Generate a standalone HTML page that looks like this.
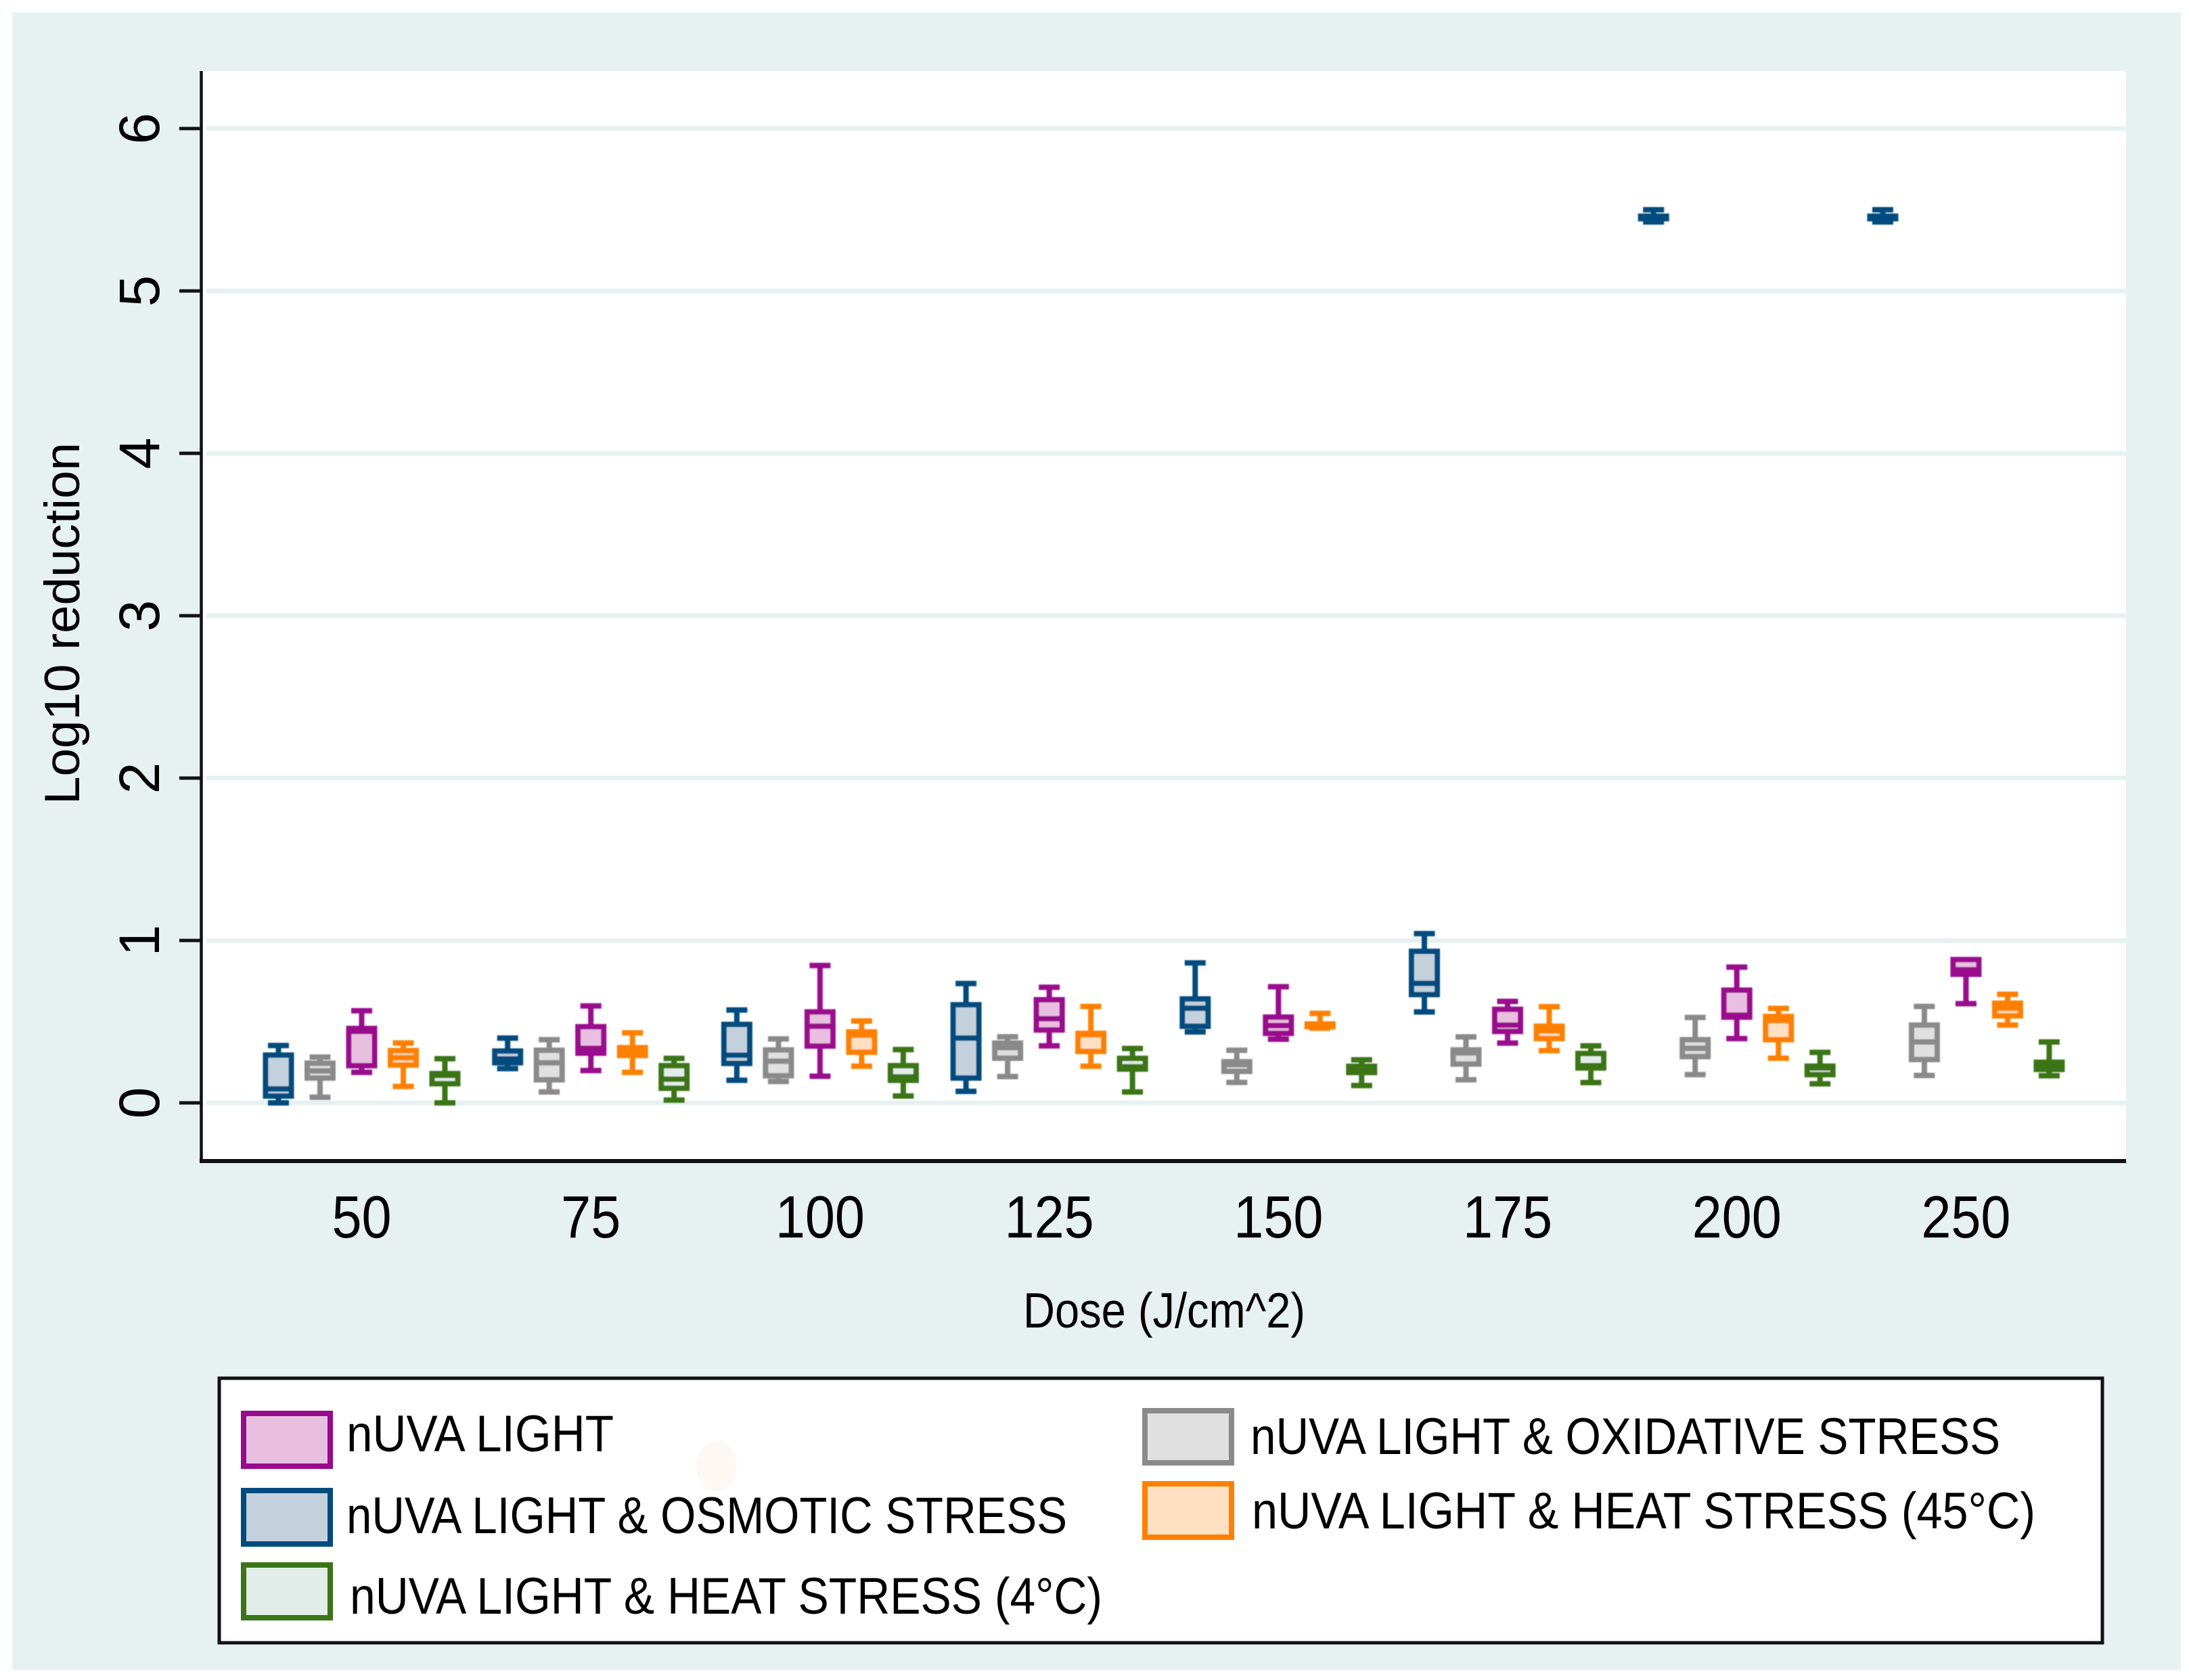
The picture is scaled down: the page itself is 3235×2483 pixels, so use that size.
<!DOCTYPE html>
<html lang="en">
<head>
<meta charset="utf-8">
<title>Log10 reduction by dose</title>
<style>
html,body{margin:0;padding:0;background:#fff;width:3235px;height:2483px;overflow:hidden}
svg{display:block}
text{font-family:"Liberation Sans",sans-serif;fill:#000}
</style>
</head>
<body>
<svg id="chart" xmlns="http://www.w3.org/2000/svg" width="3235" height="2483" viewBox="0 0 3235 2483">
  <defs>
    <filter id="soft" x="-2%" y="-2%" width="104%" height="104%"><feGaussianBlur stdDeviation="0.9"/></filter>
  </defs>
  <rect x="0" y="0" width="3235" height="2483" fill="#ffffff"/>
  <rect x="18" y="18" width="3205" height="2450" fill="#e7f1f2"/>
  <rect x="298" y="105" width="2844" height="1611" fill="#ffffff"/>
  <g id="grid"></g>
  <g id="marks" filter="url(#soft)"></g>
  <line x1="297.5" y1="105" x2="297.5" y2="1719" stroke="#111" stroke-width="4.5"/>
  <line x1="295" y1="1716" x2="3142" y2="1716" stroke="#111" stroke-width="6"/>
  <g id="yticks"></g>
  <g id="xticks"></g>
  <text transform="translate(117,1189) rotate(-90)" font-size="73" fill="#111" textLength="535" lengthAdjust="spacingAndGlyphs">Log10 reduction</text>
  <text x="1512" y="1962" font-size="73" textLength="417" lengthAdjust="spacingAndGlyphs">Dose (J/cm^2)</text>

  <g>
    <rect x="324" y="2037" width="2783" height="391" fill="#ffffff" stroke="#111" stroke-width="5"/>
    <ellipse cx="1059" cy="2167" rx="30" ry="37" fill="#fef8f4"/>

    <rect x="360" y="2089" width="128" height="78" fill="#e8bfe0" stroke="#990a8c" stroke-width="8"/>
    <text x="512" y="2145" font-size="76" textLength="395" lengthAdjust="spacingAndGlyphs">nUVA LIGHT</text>

    <rect x="360" y="2203" width="128" height="79" fill="#c3d1dd" stroke="#004b7e" stroke-width="8"/>
    <text x="512" y="2266" font-size="76" textLength="1065" lengthAdjust="spacingAndGlyphs">nUVA LIGHT &amp; OSMOTIC STRESS</text>

    <rect x="360" y="2313" width="128" height="78" fill="#e2ece8" stroke="#3a7518" stroke-width="8"/>
    <text x="517" y="2385" font-size="76" textLength="1112" lengthAdjust="spacingAndGlyphs">nUVA LIGHT &amp; HEAT STRESS (4°C)</text>

    <rect x="1692" y="2085" width="128" height="77" fill="#e0e0e0" stroke="#8a8a8a" stroke-width="8"/>
    <text x="1848" y="2149" font-size="76" textLength="1108" lengthAdjust="spacingAndGlyphs">nUVA LIGHT &amp; OXIDATIVE STRESS</text>

    <rect x="1692" y="2193" width="128" height="79" fill="#ffe0c2" stroke="#ff8000" stroke-width="8"/>
    <text x="1850" y="2259" font-size="76" textLength="1158" lengthAdjust="spacingAndGlyphs">nUVA LIGHT &amp; HEAT STRESS (45°C)</text>
  </g>
</svg>
<script>
// Categories and tick labels
const doses = ["50","75","100","125","150","175","200","250"];
const yTickValues = [0,1,2,3,4,5,6];

// Each row: [low whisker, Q1, median, Q3, high whisker], one per dose
const osmoticStress = [
  [0.00,0.042,0.086,0.294,0.353],
  [0.211,0.247,0.271,0.319,0.399],
  [0.139,0.243,0.294,0.483,0.572],
  [0.071,0.153,0.399,0.604,0.735],
  [0.437,0.472,0.583,0.640,0.862],
  [0.560,0.667,0.736,0.933,1.042],
  [5.425,5.445,5.455,5.46,5.50],
  [5.425,5.445,5.455,5.46,5.50]
];
const oxidativeStress = [
  [0.035,0.153,0.197,0.244,0.282],
  [0.067,0.142,0.247,0.324,0.389],
  [0.132,0.167,0.257,0.326,0.394],
  [0.162,0.275,0.340,0.368,0.407],
  [0.126,0.194,0.236,0.253,0.324],
  [0.142,0.239,0.308,0.326,0.406],
  [0.174,0.285,0.336,0.389,0.526],
  [0.169,0.267,0.375,0.479,0.594]
];
const nuvaLight = [
  [0.188,0.229,0.440,0.458,0.567],
  [0.199,0.306,0.336,0.469,0.597],
  [0.164,0.350,0.472,0.560,0.846],
  [0.351,0.449,0.518,0.635,0.712],
  [0.392,0.428,0.476,0.528,0.715],
  [0.368,0.440,0.479,0.576,0.625],
  [0.396,0.528,0.540,0.694,0.836],
  [0.611,0.792,0.820,0.882,0.882]
];
const heatStress45 = [
  [0.101,0.233,0.278,0.322,0.369],
  [0.188,0.292,0.315,0.340,0.431],
  [0.226,0.312,0.417,0.437,0.504],
  [0.226,0.317,0.420,0.428,0.594],
  [0.460,0.469,0.470,0.486,0.551],
  [0.322,0.396,0.444,0.472,0.592],
  [0.275,0.389,0.507,0.532,0.582],
  [0.479,0.536,0.583,0.614,0.669]
];
const heatStress4 = [
  [0.000,0.118,0.170,0.180,0.272],
  [0.017,0.090,0.146,0.229,0.274],
  [0.042,0.139,0.160,0.229,0.328],
  [0.067,0.208,0.222,0.274,0.335],
  [0.107,0.187,0.208,0.225,0.265],
  [0.125,0.215,0.229,0.304,0.351],
  [0.117,0.174,0.215,0.226,0.311],
  [0.167,0.206,0.236,0.250,0.375]
];
const seriesNames = ["osmotic-stress","oxidative-stress","nuva-light","heat-stress-45c","heat-stress-4c"];
const seriesValues = [osmoticStress, oxidativeStress, nuvaLight, heatStress45, heatStress4];
const seriesStroke = ["#004b7e","#8a8a8a","#990a8c","#ff8000","#3a7518"];
const seriesFill = ["#c3d1dd","#e0e0e0","#e8bfe0","#ffe0c2","#e2ece8"];

// Axis functions
function yScale(v){ return 1630 - v * 240; }
function xScale(groupIndex, seriesIndex){ return 534.5 + groupIndex * 338.7 + (seriesIndex - 2) * 61.5; }

const NS = "http://www.w3.org/2000/svg";
function make(tag, parent, props){
  const node = document.createElementNS(NS, tag);
  for (const k in props) node.setAttribute(k, props[k]);
  parent.appendChild(node);
  return node;
}

const gridGroup = document.getElementById("grid");
const yTickGroup = document.getElementById("yticks");
yTickValues.forEach(function(v){
  const y = yScale(v);
  const grid = make("line", gridGroup, {x1:305, x2:3142, y1:y, y2:y, stroke:"#e7f1f2", "stroke-width":7});
  
  
  const tick = make("line", yTickGroup, {x1:265, x2:298, y1:y, y2:y, stroke:"#111", "stroke-width":5});
  
  
  const label = make("text", yTickGroup, {transform:"translate(235," + y + ") rotate(-90)", "font-size":84, "text-anchor":"middle"});
  
  
  label.textContent = String(v);
});

const xTickGroup = document.getElementById("xticks");
doses.forEach(function(d, i){
  const label = make("text", xTickGroup, {transform:"translate(" + xScale(i, 2) + ",1829) scale(0.9,1)", "font-size":88, "text-anchor":"middle"});
  
  
  label.textContent = d;
});

const marks = document.getElementById("marks");
const BOX_W = 38, CAP_W = 31, LINE = 8;
seriesValues.forEach(function(rows, s){
  rows.forEach(function(row, g){
    if (!row) return;
    const x = xScale(g, s);
    const color = seriesStroke[s];
    const box = make("g", marks, {});
    
    
    const low = yScale(row[0]), q1 = yScale(row[1]), med = yScale(row[2]), q3 = yScale(row[3]), high = yScale(row[4]);
    const whisker = make("line", box, {x1:x, x2:x, y1:high, y2:low, stroke:color, "stroke-width":LINE});
    
    
    const capHigh = make("line", box, {x1:x-CAP_W/2, x2:x+CAP_W/2, y1:high, y2:high, stroke:color, "stroke-width":LINE});
    
    
    const capLow = make("line", box, {x1:x-CAP_W/2, x2:x+CAP_W/2, y1:low, y2:low, stroke:color, "stroke-width":LINE});
    
    
    const iqr = make("rect", box, {x:x-BOX_W/2, y:q3, width:BOX_W, height:Math.max(q1-q3,0), fill:seriesFill[s], stroke:color, "stroke-width":LINE});
    
    
    const median = make("line", box, {x1:x-BOX_W/2, x2:x+BOX_W/2, y1:med, y2:med, stroke:color, "stroke-width":LINE});
    
    
  });
});
</script>
</body>
</html>
